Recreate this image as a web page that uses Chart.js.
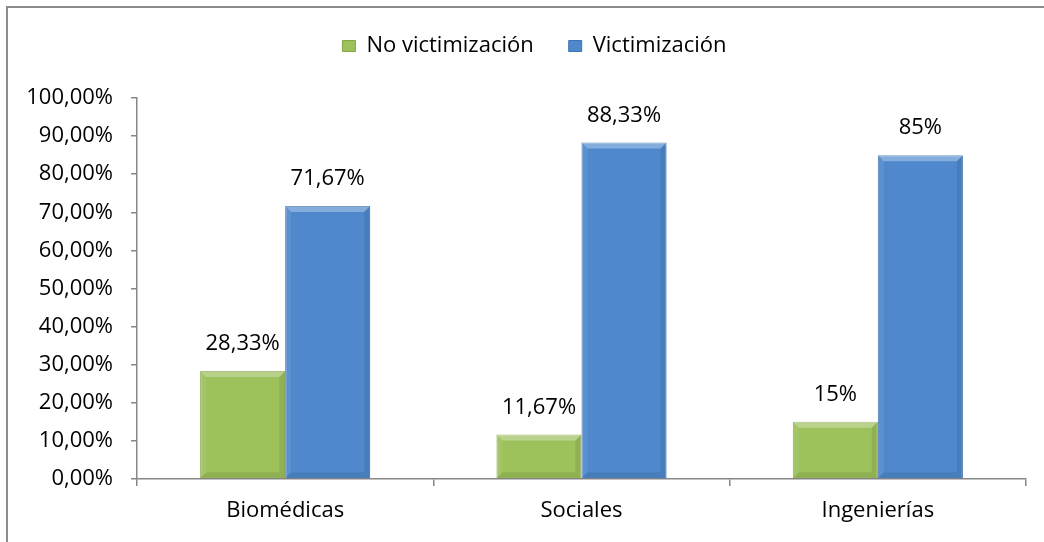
<!DOCTYPE html>
<html>
<head>
<meta charset="utf-8">
<script src="https://cdn.jsdelivr.net/npm/chart.js@4.4.1/dist/chart.umd.min.js"></script>
<style>
  html, body { margin: 0; padding: 0; background: #fff; overflow: hidden; }
  #wrap { position: relative; width: 1044px; height: 542px; }
  #frame { position: absolute; left: 6px; top: 6px; width: 1100px; height: 600px;
           border-top: 2px solid #8c8c8c; border-left: 2px solid #8c8c8c; }
  canvas { position: absolute; left: 0; top: 0; }
</style>
</head>
<body>
<div id="wrap">
  <div id="frame"></div>
  <canvas id="c" width="1044" height="542"></canvas>
</div>
<script>
const categories = ['Biomédicas', 'Sociales', 'Ingenierías'];
const seriesNames = ['No victimización', 'Victimización'];
const noVictimizacion = [28.33, 11.67, 15];
const victimizacion = [71.67, 88.33, 85];
const noVictLabels = ['28,33%', '11,67%', '15%'];
const victLabels = ['71,67%', '88,33%', '85%'];
const yTickLabels = ['0,00%', '10,00%', '20,00%', '30,00%', '40,00%', '50,00%',
                     '60,00%', '70,00%', '80,00%', '90,00%', '100,00%'];

const FONT = "'Open Sans', 'Liberation Sans', sans-serif";
const valueLabels = [noVictLabels, victLabels];

const legendPlugin = {
  id: 'legendTweak',
  beforeInit(chart) {
    const lg = chart.legend;
    if (!lg) return;
    const orig = lg.fit;
    lg.fit = function () { orig.call(this); this.height = 98; };
  },
  afterLayout(chart) {
    const lg = chart.legend;
    if (lg) { lg.left = 43; }
  }
};

const bevelPlugin = {
  id: 'bevel',
  afterDatasetsDraw(chart) {
    const ctx = chart.ctx;
    chart.data.datasets.forEach((ds, di) => {
      const meta = chart.getDatasetMeta(di);
      meta.data.forEach((bar, i) => {
        const p = bar.getProps(['x', 'y', 'base', 'width'], true);
        const l = p.x - p.width / 2, r = p.x + p.width / 2, t = p.y, b = p.base;
        const s = 6;
        ctx.save();
        const poly = (pts, col) => {
          ctx.beginPath();
          ctx.moveTo(pts[0][0], pts[0][1]);
          for (let k = 1; k < pts.length; k++) ctx.lineTo(pts[k][0], pts[k][1]);
          ctx.closePath();
          ctx.fillStyle = col;
          ctx.fill();
        };
        poly([[l, t], [r, t], [r - s, t + s], [l + s, t + s]], 'rgba(255,255,255,0.30)');
        poly([[l, t], [l + s, t + s], [l + s, b - s], [l, b]], 'rgba(255,255,255,0.08)');
        poly([[r, t], [r - s, t + s], [r - s, b - s], [r, b]], 'rgba(0,0,0,0.08)');
        poly([[l, b], [l + s, b - s], [r - s, b - s], [r, b]], 'rgba(0,0,0,0.08)');
        ctx.restore();
        ctx.save();
        ctx.font = '22px ' + FONT;
        ctx.fillStyle = '#000';
        ctx.textAlign = 'center';
        ctx.textBaseline = 'middle';
        ctx.fillText(valueLabels[di][i], p.x, t - 27);
        ctx.restore();
      });
    });
  }
};

new Chart(document.getElementById('c'), {
  type: 'bar',
  data: {
    labels: categories,
    datasets: [
      { label: seriesNames[0], data: noVictimizacion, backgroundColor: '#9DC15B',
        borderColor: '#84A54A', borderWidth: 1,
        categoryPercentage: 0.574, barPercentage: 1.0 },
      { label: seriesNames[1], data: victimizacion, backgroundColor: '#4F88CD',
        borderColor: '#4173B0', borderWidth: 1,
        categoryPercentage: 0.574, barPercentage: 1.0 }
    ]
  },
  plugins: [legendPlugin, bevelPlugin],
  options: {
    responsive: false,
    animation: false,
    devicePixelRatio: 1,
    layout: { padding: { left: 0, right: 18, top: 0, bottom: 0 } },
    plugins: {
      legend: {
        position: 'top',
        labels: { font: { family: FONT, size: 22 }, color: '#000',
                  boxWidth: 13, boxHeight: 11, padding: 35 }
      },
      tooltip: { enabled: false }
    },
    scales: {
      x: {
        offset: true,
        grid: { offset: true, drawOnChartArea: false, drawTicks: true, tickLength: 7,
                color: '#868686', lineWidth: 1.5 },
        border: { display: true, color: '#868686', width: 1.5 },
        ticks: { font: { family: FONT, size: 22 }, color: '#000', padding: 12 },
        afterFit(scale) { scale.height = 63; }
      },
      y: {
        min: 0, max: 100,
        grid: { drawOnChartArea: false, drawTicks: true, tickLength: 6,
                color: '#868686', lineWidth: 1.5 },
        border: { display: true, color: '#868686', width: 1.5 },
        ticks: {
          stepSize: 10,
          font: { family: FONT, size: 22 }, color: '#000', padding: 18,
          callback: (v) => yTickLabels[Math.round(v / 10)]
        },
        afterFit(scale) { scale.width = 137; }
      }
    }
  }
});
</script>
</body>
</html>
